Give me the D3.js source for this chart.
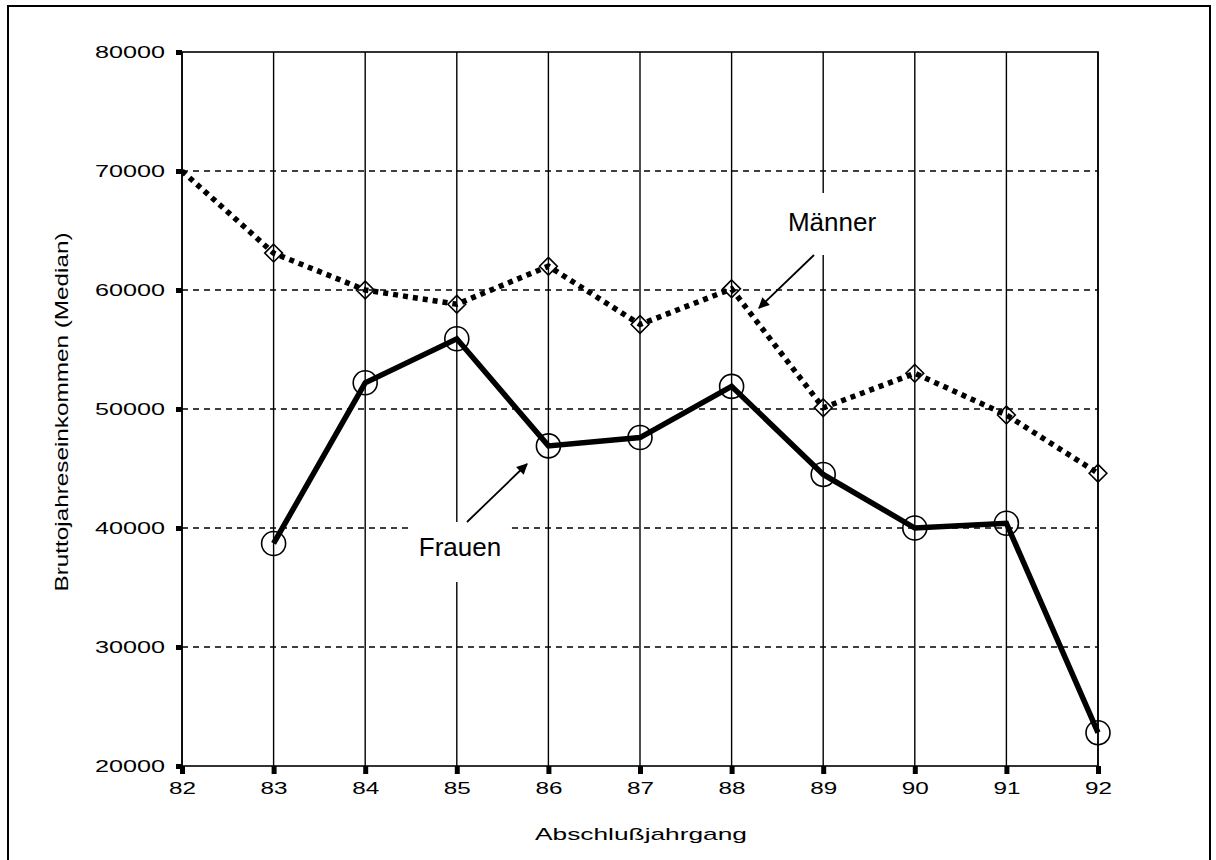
<!DOCTYPE html>
<html>
<head>
<meta charset="utf-8">
<script src="https://cdnjs.cloudflare.com/ajax/libs/d3/7.8.5/d3.min.js"></script>
<style>
    body { margin: 0; background: white; }
    text { font-family: "Liberation Sans", Arial, sans-serif; fill: black; }
</style>
</head>
<body>
<svg id="chart" width="1216" height="860"></svg>
<script>
    // Abschlussjahrgang (x) and median income per group
    const years = [82, 83, 84, 85, 86, 87, 88, 89, 90, 91, 92];
    const maenner = [70000, 63100, 60000, 58800, 62000, 57100, 60100, 50100, 53000, 49500, 44600];
    const frauen = [null, 38700, 52200, 55900, 46900, 47600, 51900, 44500, 40000, 40400, 22800];
    const yTicks = [20000, 30000, 40000, 50000, 60000, 70000, 80000];

    const svg = d3.select('#chart');
    const plotLeft = 182, plotRight = 1098, plotTop = 52, plotBottom = 766;

    const x = d3.scaleLinear().domain([82, 92]).range([plotLeft, plotRight]);
    const y = d3.scaleLinear().domain([20000, 80000]).range([plotBottom, plotTop]);

    // outer frame
    svg.append('rect')
        .attr('x', 8).attr('y', 6).attr('width', 1202).attr('height', 900)
        .attr('fill', 'none').attr('stroke', 'black').attr('stroke-width', 2);

    // horizontal dashed grid
    svg.append('g').selectAll('line')
        .data(yTicks.slice(1, -1))
        .join('line')
        .attr('x1', plotLeft).attr('x2', plotRight)
        .attr('y1', d => y(d)).attr('y2', d => y(d))
        .attr('stroke', 'black').attr('stroke-width', 1.3)
        .attr('stroke-dasharray', '6,5');

    // vertical solid grid
    svg.append('g').selectAll('line')
        .data(years)
        .join('line')
        .attr('x1', d => x(d)).attr('x2', d => x(d))
        .attr('y1', plotTop).attr('y2', plotBottom)
        .attr('stroke', 'black').attr('stroke-width', 1.4);

    // plot border
    svg.append('rect')
        .attr('x', plotLeft).attr('y', plotTop)
        .attr('width', plotRight - plotLeft).attr('height', plotBottom - plotTop)
        .attr('fill', 'none').attr('stroke', 'black').attr('stroke-width', 1.6);

    // axes
    const xAxis = svg.append('g')
        .attr('transform', `translate(0,${plotBottom})`)
        .call(d3.axisBottom(x).tickValues(years).tickSize(8).tickPadding(8).tickFormat(d3.format('d')));
    xAxis.select('.domain').remove();
    xAxis.selectAll('line').attr('stroke-width', 5);
    xAxis.selectAll('text')
        .attr('font-size', 17)
        .attr('textLength', d => String(d).length * 13.5)
        .attr('lengthAdjust', 'spacingAndGlyphs');

    const yAxis = svg.append('g')
        .attr('transform', `translate(${plotLeft},0)`)
        .call(d3.axisLeft(y).tickValues(yTicks).tickSize(6).tickPadding(11).tickFormat(d3.format('d')));
    yAxis.select('.domain').remove();
    yAxis.selectAll('line').attr('stroke-width', 5);
    yAxis.selectAll('text')
        .attr('font-size', 17)
        .attr('textLength', d => String(d).length * 14)
        .attr('lengthAdjust', 'spacingAndGlyphs');

    // axis titles
    svg.append('text')
        .attr('transform', 'translate(68,412) rotate(-90)')
        .attr('text-anchor', 'middle')
        .attr('font-size', 18)
        .attr('textLength', 359)
        .attr('lengthAdjust', 'spacingAndGlyphs')
        .text('Bruttojahreseinkommen (Median)');

    svg.append('text')
        .attr('x', 641).attr('y', 840)
        .attr('text-anchor', 'middle')
        .attr('font-size', 17)
        .attr('textLength', 212)
        .attr('lengthAdjust', 'spacingAndGlyphs')
        .text('Abschlußjahrgang');

    // series lines
    const line = d3.line()
        .defined(d => d[1] !== null)
        .x(d => x(d[0])).y(d => y(d[1]));

    const mData = years.map((yr, i) => [yr, maenner[i]]);
    const fData = years.map((yr, i) => [yr, frauen[i]]);

    svg.append('path')
        .attr('d', line(mData))
        .attr('fill', 'none').attr('stroke', 'black')
        .attr('stroke-width', 5.5)
        .attr('stroke-dasharray', '5,5');

    svg.append('path')
        .attr('d', line(fData))
        .attr('fill', 'none').attr('stroke', 'black')
        .attr('stroke-width', 5.5)
        .attr('stroke-linejoin', 'miter');

    // markers
    svg.append('g').selectAll('path')
        .data(mData.slice(1))
        .join('path')
        .attr('d', d3.symbol(d3.symbolDiamond2, 200))
        .attr('transform', d => `translate(${x(d[0])},${y(d[1])})`)
        .attr('fill', 'none').attr('stroke', 'black').attr('stroke-width', 1.6);

    svg.append('g').selectAll('circle')
        .data(fData.filter(d => d[1] !== null))
        .join('circle')
        .attr('cx', d => x(d[0])).attr('cy', d => y(d[1]))
        .attr('r', 12)
        .attr('fill', 'none').attr('stroke', 'black').attr('stroke-width', 1.6);

    // annotations with arrows
    svg.append('defs').append('marker')
        .attr('id', 'arrow')
        .attr('viewBox', '0 0 10 10')
        .attr('refX', 9).attr('refY', 5)
        .attr('markerWidth', 13).attr('markerHeight', 11)
        .attr('markerUnits', 'userSpaceOnUse')
        .attr('orient', 'auto')
        .append('path').attr('d', 'M0,0L10,5L0,10Z').attr('fill', 'black');

    const notes = [
        {label: 'Männer', cx: 832, cy: 222, box: [786, 193, 96, 62], from: [814, 255], to: [759, 308]},
        {label: 'Frauen', cx: 460, cy: 547, box: [408, 522, 104, 60], from: [467, 522], to: [527, 464]}
    ];
    notes.forEach(n => {
        svg.append('rect')
            .attr('x', n.box[0]).attr('y', n.box[1])
            .attr('width', n.box[2]).attr('height', n.box[3])
            .attr('fill', 'white');
        svg.append('text')
            .attr('x', n.cx).attr('y', n.cy)
            .attr('text-anchor', 'middle')
            .attr('dominant-baseline', 'central')
            .attr('font-size', 26)
            .text(n.label);
        svg.append('line')
            .attr('x1', n.from[0]).attr('y1', n.from[1])
            .attr('x2', n.to[0]).attr('y2', n.to[1])
            .attr('stroke', 'black').attr('stroke-width', 1.8)
            .attr('marker-end', 'url(#arrow)');
    });
</script>
</body>
</html>
